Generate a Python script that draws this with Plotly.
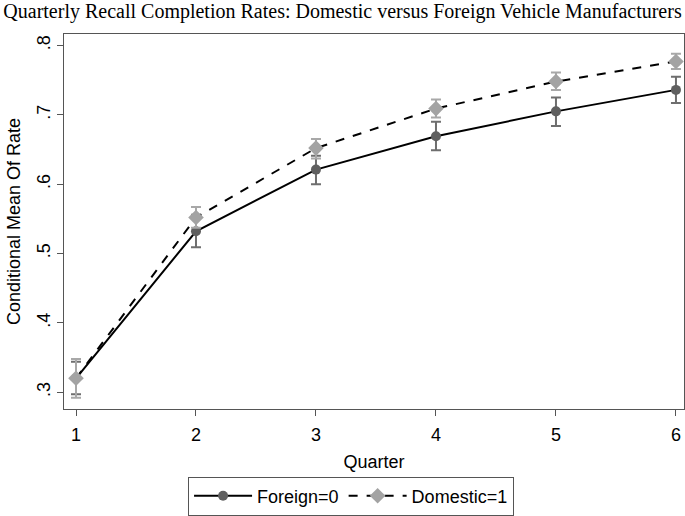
import plotly.graph_objects as go

quarters = [1, 2, 3, 4, 5, 6]
foreign_mean = [0.320, 0.532, 0.621, 0.669, 0.705, 0.736]
foreign_lo = [0.297, 0.509, 0.600, 0.649, 0.684, 0.717]
foreign_hi = [0.344, 0.556, 0.641, 0.690, 0.725, 0.755]
domestic_mean = [0.320, 0.552, 0.652, 0.709, 0.748, 0.777]
domestic_lo = [0.292, 0.537, 0.637, 0.696, 0.736, 0.766]
domestic_hi = [0.348, 0.567, 0.665, 0.722, 0.761, 0.788]

y_ticks = [0.3, 0.4, 0.5, 0.6, 0.7, 0.8]
y_tick_text = [".3", ".4", ".5", ".6", ".7", ".8"]

fig = go.Figure()

def add_series(name, mean, lo, hi, dash, mcolor, ecolor, symbol, msize):
    fig.add_trace(go.Scatter(
        x=quarters, y=mean, mode="markers", showlegend=False,
        marker=dict(size=0.1, color="rgba(0,0,0,0)"),
        error_y=dict(type="data", symmetric=False,
                     array=[h - m for h, m in zip(hi, mean)],
                     arrayminus=[m - l for m, l in zip(mean, lo)],
                     color=ecolor, thickness=2, width=5),
        hoverinfo="skip"))
    fig.add_trace(go.Scatter(
        x=quarters, y=mean, mode="lines+markers", name=name,
        line=dict(color="black", width=2, dash=dash),
        marker=dict(color=mcolor, size=msize, symbol=symbol)))

add_series("Foreign=0", foreign_mean, foreign_lo, foreign_hi, "solid",
           "#5f5f5f", "#6e6e6e", "circle", 10)
add_series("Domestic=1", domestic_mean, domestic_lo, domestic_hi, "dash",
           "#a3a3a3", "#a8a8a8", "diamond", 12)

fig.update_layout(
    width=685, height=516,
    margin=dict(l=64, r=1, t=34, b=101),
    paper_bgcolor="white", plot_bgcolor="white",
    title=dict(text="Quarterly Recall Completion Rates: Domestic versus Foreign Vehicle Manufacturers",
               x=0.5, xanchor="center", y=0.992, yanchor="top",
               font=dict(family="Liberation Serif", size=20, color="black")),
    font=dict(family="Liberation Sans", color="black"),
    legend=dict(orientation="h", x=0.463, xanchor="center", y=-0.18, yanchor="top",
                bordercolor="#555555", borderwidth=1,
                font=dict(family="Liberation Sans", size=18, color="black"),
                itemwidth=58),
)

fig.update_xaxes(range=[0.9, 6.067], tickvals=quarters,
                 ticks="outside", ticklen=6, tickcolor="#555555",
                 showline=True, linecolor="#555555", linewidth=1, mirror=True,
                 showgrid=False, zeroline=False, ticklabelstandoff=3,
                 tickfont=dict(size=18, family="Liberation Sans"),
                 title=dict(text="Quarter", font=dict(size=18, family="Liberation Sans"), standoff=11))
fig.update_yaxes(range=[0.2757, 0.8166], tickvals=y_ticks, ticktext=y_tick_text,
                 tickangle=-90,
                 ticks="outside", ticklen=6, tickcolor="#555555",
                 showline=True, linecolor="#555555", linewidth=1, mirror=True,
                 showgrid=False, zeroline=False,
                 tickfont=dict(size=18, family="Liberation Sans"),
                 title=dict(text="Conditional Mean Of Rate", font=dict(size=18, family="Liberation Sans"), standoff=8))

fig.write_html("out.html", config={"displayModeBar": False},
               post_script="document.body.style.margin='0';")
